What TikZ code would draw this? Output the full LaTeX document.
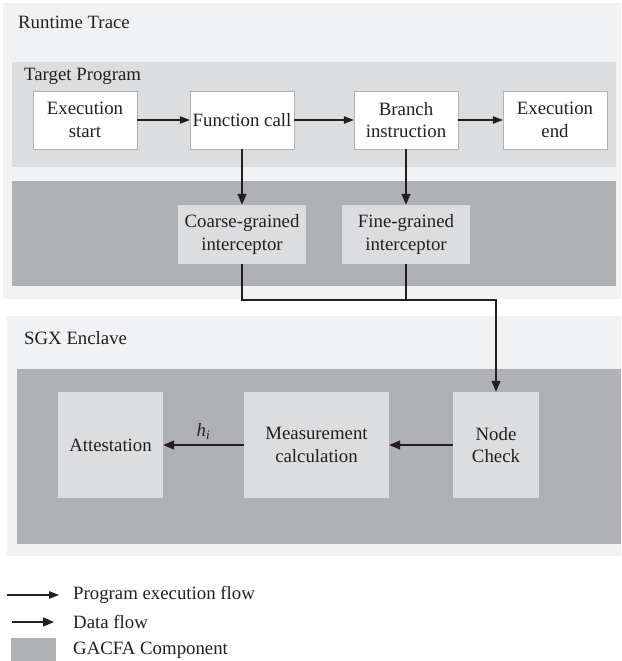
\documentclass[tikz,border=0pt]{standalone}
\usepackage{fontspec}
\setmainfont{Liberation Serif}
\usetikzlibrary{arrows.meta}
\definecolor{outerbg}{HTML}{F1F2F4}
\definecolor{midbg}{HTML}{DCDDDF}
\definecolor{darkbg}{HTML}{B0B1B4}
\definecolor{ink}{HTML}{231F20}
\begin{document}
\begin{tikzpicture}[x=1pt,y=-1pt,
  every node/.style={font=\fontsize{18.8}{22.5}\selectfont, text=ink, align=center, inner sep=0pt},
  whitebox/.style={fill=white, draw=midbg!80!black, line width=0.3pt, minimum width=104pt, minimum height=58pt},
  compbox/.style={fill=midbg, minimum height=59pt},
  execflow/.style={draw=ink, line width=1.1pt, -{Triangle[length=10pt,width=7.5pt]}},
  dataflow/.style={draw=ink, line width=1.4pt, -{Triangle[length=11pt,width=9pt]}},
  plainline/.style={draw=ink, line width=1.4pt},
  lbl/.style={anchor=west}
]
\useasboundingbox (0,0) rectangle (621,661);
\fill[white] (0,0) rectangle (621,661);
% Runtime Trace container
\fill[outerbg] (3,3) rectangle (621,299);
\node[lbl] (rtlabel) at (18,22) {Runtime Trace};
\fill[midbg] (12,62) rectangle (616,167);
\node[lbl] (tplabel) at (24,76) {Target Program};
\fill[darkbg] (12,181) rectangle (616,286);
% SGX Enclave container
\fill[outerbg] (7,316) rectangle (621,556);
\node[lbl] (sgxlabel) at (24,338) {SGX Enclave};
\fill[darkbg] (17,369) rectangle (621,544);

% Target program nodes
\node[whitebox] (estart) at (85,120) {Execution\\start};
\node[whitebox] (fcall) at (242,120) {Function call};
\node[whitebox] (branch) at (406,120) {Branch\\instruction};
\node[whitebox] (eend) at (555,120) {Execution\\end};

% Interceptors
\node[compbox, minimum width=128pt] (coarse) at (242,234.5) {Coarse-grained\\interceptor};
\node[compbox, minimum width=128pt] (fine) at (406,234.5) {Fine-grained\\interceptor};

% Enclave nodes
\node[compbox, minimum width=105pt, minimum height=106pt] (attest) at (110.5,445) {Attestation};
\node[compbox, minimum width=145pt, minimum height=106pt] (measure) at (316.5,445) {Measurement\\calculation};
\node[compbox, minimum width=86pt, minimum height=106pt] (check) at (496,445) {Node\\Check};

% execution flow
\draw[execflow] (estart) -- (fcall);
\draw[execflow] (fcall) -- (branch);
\draw[execflow] (branch) -- (eend);

% data flow
\draw[dataflow] (fcall.south) -- (coarse.north);
\draw[dataflow] (branch.south) -- (fine.north);
\coordinate (junc) at (496,300);
\draw[dataflow] (coarse.south) |- (junc) -- (check.north);
\draw[plainline] (fine.south) -- (fine.south |- junc);
\draw[dataflow] (check.west) -- (measure.east);
\draw[dataflow] (measure.west) -- node[above=5pt, pos=0.5] (hlabel) {\textit{h}\textsubscript{\textit{i}}} (attest.east);

% Legend
\coordinate (l1a) at (7,595);
\coordinate (l1b) at (59,595);
\draw[execflow] (l1a) -- (l1b);
\node[lbl] (leg1) at (73,595) {Program execution flow};
\coordinate (l2a) at (12,622);
\coordinate (l2b) at (54,622);
\draw[dataflow] (l2a) -- (l2b);
\node[lbl] (leg2) at (73,622) {Data flow};
\fill[darkbg] (11,638) rectangle (56,661);
\node[lbl] (leg3) at (73,650) {GACFA Component};
\end{tikzpicture}
\end{document}
